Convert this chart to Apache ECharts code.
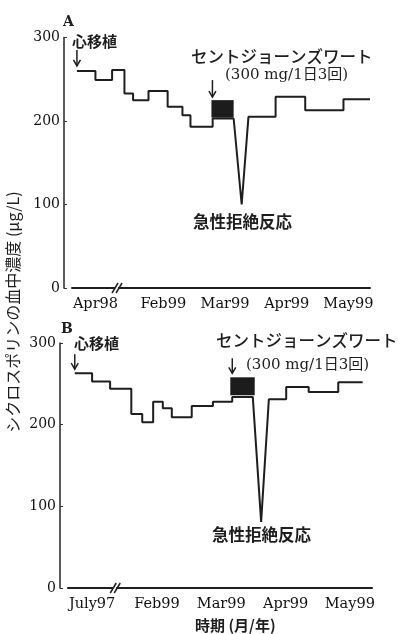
<!DOCTYPE html>
<html><head><meta charset="utf-8">
<script src="https://cdn.jsdelivr.net/npm/echarts@6/dist/echarts.min.js"></script>
<style>html,body{margin:0;padding:0;background:#fff}#c{width:404px;height:634px}</style>
</head><body><div id="c"></div>
<script>
// Time axis: months counted from February 1999 (Feb99 = 0); the span before it is compressed by an axis break.
const tickValuesA = [-1.10, 0, 1, 2, 3];
const tickLabelsA = ['Apr98', 'Feb99', 'Mar99', 'Apr99', 'May99'];
const tickValuesB = [-1.01, 0, 1, 2, 3];
const tickLabelsB = ['July97', 'Feb99', 'Mar99', 'Apr99', 'May99'];
const breakA = -0.75;
const breakB = -0.65;

// Cyclosporine trough level (µg/L), patient A: polyline vertices
const cyclosporineXA = [-1.40, -1.10, -1.10, -0.83, -0.83, -0.63, -0.63, -0.49, -0.49, -0.24, -0.24, 0.07, 0.07, 0.31, 0.31, 0.44, 0.44, 0.80, 0.80, 1.14, 1.27, 1.38, 1.82, 1.82, 2.30, 2.30, 2.92, 2.92, 3.35];
const cyclosporineYA = [260, 260, 249, 249, 261, 261, 233, 233, 225, 225, 236, 236, 217, 217, 207, 207, 193, 193, 203, 203, 100, 205, 205, 229, 229, 213, 213, 226, 226];
// St John's wort period, patient A: [start, end, low, high]
const wortA = [0.78, 1.14, 204, 225];

// Patient B
const cyclosporineXB = [-1.28, -1.01, -1.01, -0.73, -0.73, -0.40, -0.40, -0.23, -0.23, -0.06, -0.06, 0.09, 0.09, 0.23, 0.23, 0.54, 0.54, 0.87, 0.87, 1.17, 1.17, 1.49, 1.62, 1.74, 2.01, 2.01, 2.36, 2.36, 2.82, 2.82, 3.20];
const cyclosporineYB = [263, 263, 253, 253, 244, 244, 213, 213, 203, 203, 228, 228, 220, 220, 209, 209, 223, 223, 228, 228, 234, 234, 81, 231, 231, 246, 246, 240, 240, 252, 252];
const wortB = [1.14, 1.52, 236, 258];

const INK = '#1e1e1e';
const SERIF = '"DejaVu Serif", "Noto Sans CJK JP", serif';
const CJK = '"Noto Sans CJK JP", "DejaVu Serif", sans-serif';

const zip = (xs, ys) => xs.map((x, i) => [x, ys[i]]);
const labelFor = (vals, labels) => v => {
  const i = vals.findIndex(t => Math.abs(t - v) < 1e-6);
  return i < 0 ? '' : labels[i];
};

function xAxisFor(idx, min, max, vals, labels) {
  return {
    gridIndex: idx, type: 'value', min, max,
    axisLine: { show: true, onZero: false, lineStyle: { color: INK, width: 2 } },
    axisTick: { show: false },
    splitLine: { show: false },
    axisLabel: {
      customValues: vals, formatter: labelFor(vals, labels),
      margin: 9, fontFamily: SERIF, fontSize: 14.5, color: '#111'
    }
  };
}
function yAxisFor(idx) {
  return {
    gridIndex: idx, type: 'value', min: 0, max: 300, interval: 100, offset: 8,
    axisLine: { show: true, onZero: false, lineStyle: { color: '#333', width: 1.6 } },
    axisTick: { show: true, inside: true, length: 3, lineStyle: { color: '#333' } },
    splitLine: { show: false },
    axisLabel: { margin: 4, fontFamily: SERIF, fontSize: 14, color: '#111' }
  };
}
const stepLine = (idx, xs, ys) => ({
  type: 'line', xAxisIndex: idx, yAxisIndex: idx, data: zip(xs, ys),
  showSymbol: false, lineStyle: { color: INK, width: 2 }, z: 3
});
const wortBar = (idx, w) => ({
  type: 'custom', xAxisIndex: idx, yAxisIndex: idx, data: [w], z: 4,
  renderItem: (params, api) => {
    const p0 = api.coord([api.value(0), api.value(3)]);
    const p1 = api.coord([api.value(1), api.value(2)]);
    return { type: 'rect', shape: { x: p0[0], y: p0[1], width: p1[0] - p0[0], height: p1[1] - p0[1] },
      style: { fill: '#1c1c1c' } };
  }
});
const axisBreak = (idx, bx) => ({
  type: 'custom', xAxisIndex: idx, yAxisIndex: idx, data: [[bx, 0]], z: 5, clip: false,
  renderItem: (params, api) => {
    const p = api.coord([api.value(0), api.value(1)]);
    const seg = dx => ({ type: 'line', shape: { x1: p[0] + dx - 3, y1: p[1] + 5, x2: p[0] + dx + 3, y2: p[1] - 5 },
      style: { stroke: INK, lineWidth: 1.5 } });
    return { type: 'group', children: [
      { type: 'rect', shape: { x: p[0] - 2, y: p[1] - 2, width: 3, height: 4 }, style: { fill: '#fff' } },
      seg(-2), seg(2)
    ] };
  }
});

const chart = echarts.init(document.getElementById('c'), null, { renderer: 'canvas' });
chart.setOption({
  animation: false,
  backgroundColor: '#fff',
  grid: [
    { left: 72, top: 37.5, width: 298, height: 250.5 },
    { left: 68, top: 343, width: 304, height: 245 }
  ],
  xAxis: [
    xAxisFor(0, -1.48, 3.35, tickValuesA, tickLabelsA),
    xAxisFor(1, -1.385, 3.345, tickValuesB, tickLabelsB)
  ],
  yAxis: [yAxisFor(0), yAxisFor(1)],
  series: [
    stepLine(0, cyclosporineXA, cyclosporineYA),
    wortBar(0, wortA),
    axisBreak(0, breakA),
    stepLine(1, cyclosporineXB, cyclosporineYB),
    wortBar(1, wortB),
    axisBreak(1, breakB)
  ]
});

// Annotations
const text = (x, y, s, font, size, weight) => ({
  type: 'text', x, y, silent: true,
  style: { text: s, fontFamily: font, fontSize: size, fontWeight: weight || 'normal', fill: INK,
    textVerticalAlign: 'middle', textAlign: 'left' }
});
const arrow = (x, yTop, yTip) => ({
  type: 'group', silent: true, children: [
    { type: 'line', shape: { x1: x, y1: yTop, x2: x, y2: yTip }, style: { stroke: INK, lineWidth: 1.5 } },
    { type: 'polyline', shape: { points: [[x - 3.5, yTip - 6], [x, yTip], [x + 3.5, yTip - 6]] },
      style: { stroke: INK, lineWidth: 1.5, fill: null } }
  ]
});
const px = (idx, pt) => chart.convertToPixel({ gridIndex: idx }, pt);

const startA = px(0, [cyclosporineXA[0], cyclosporineYA[0]]);
const startB = px(1, [cyclosporineXB[0], cyclosporineYB[0]]);
const boxA = px(0, [wortA[0], wortA[3]]);
const boxB = px(1, [wortB[0], wortB[3]]);
const yTitle = 'シクロスポリンの血中濃度 (μg/L)';

chart.setOption({
  graphic: [
    text(63, 22, 'A', SERIF, 14, 'bold'),
    text(72, 41, '心移植', CJK, 15, 'bold'),
    arrow(startA[0], startA[1] - 21, startA[1] - 5),
    text(191, 57, 'セントジョーンズワート', CJK, 16.5, '500'),
    text(225, 75, '(300 mg/1日3回)', SERIF, 15, 'normal'),
    arrow(boxA[0] + 1, boxA[1] - 20, boxA[1] - 3),
    text(193, 222, '急性拒絶反応', CJK, 16.5, 'bold'),

    text(61, 329, 'B', SERIF, 14, 'bold'),
    text(74, 343, '心移植', CJK, 15, 'bold'),
    arrow(startB[0], startB[1] - 19, startB[1] - 4),
    text(216, 341, 'セントジョーンズワート', CJK, 16.5, '500'),
    text(246, 365, '(300 mg/1日3回)', SERIF, 15, 'normal'),
    arrow(boxB[0] + 2, boxB[1] - 19, boxB[1] - 4),
    text(212, 535, '急性拒絶反応', CJK, 16.5, 'bold'),
    text(195, 625, '時期 (月/年)', CJK, 15, 'bold'),

    { type: 'text', x: 13, y: 312, rotation: Math.PI / 2, silent: true,
      style: { text: yTitle, fontFamily: CJK, fontSize: 16, fill: INK,
        textAlign: 'center', textVerticalAlign: 'middle' } }
  ]
});
</script>
</body></html>
